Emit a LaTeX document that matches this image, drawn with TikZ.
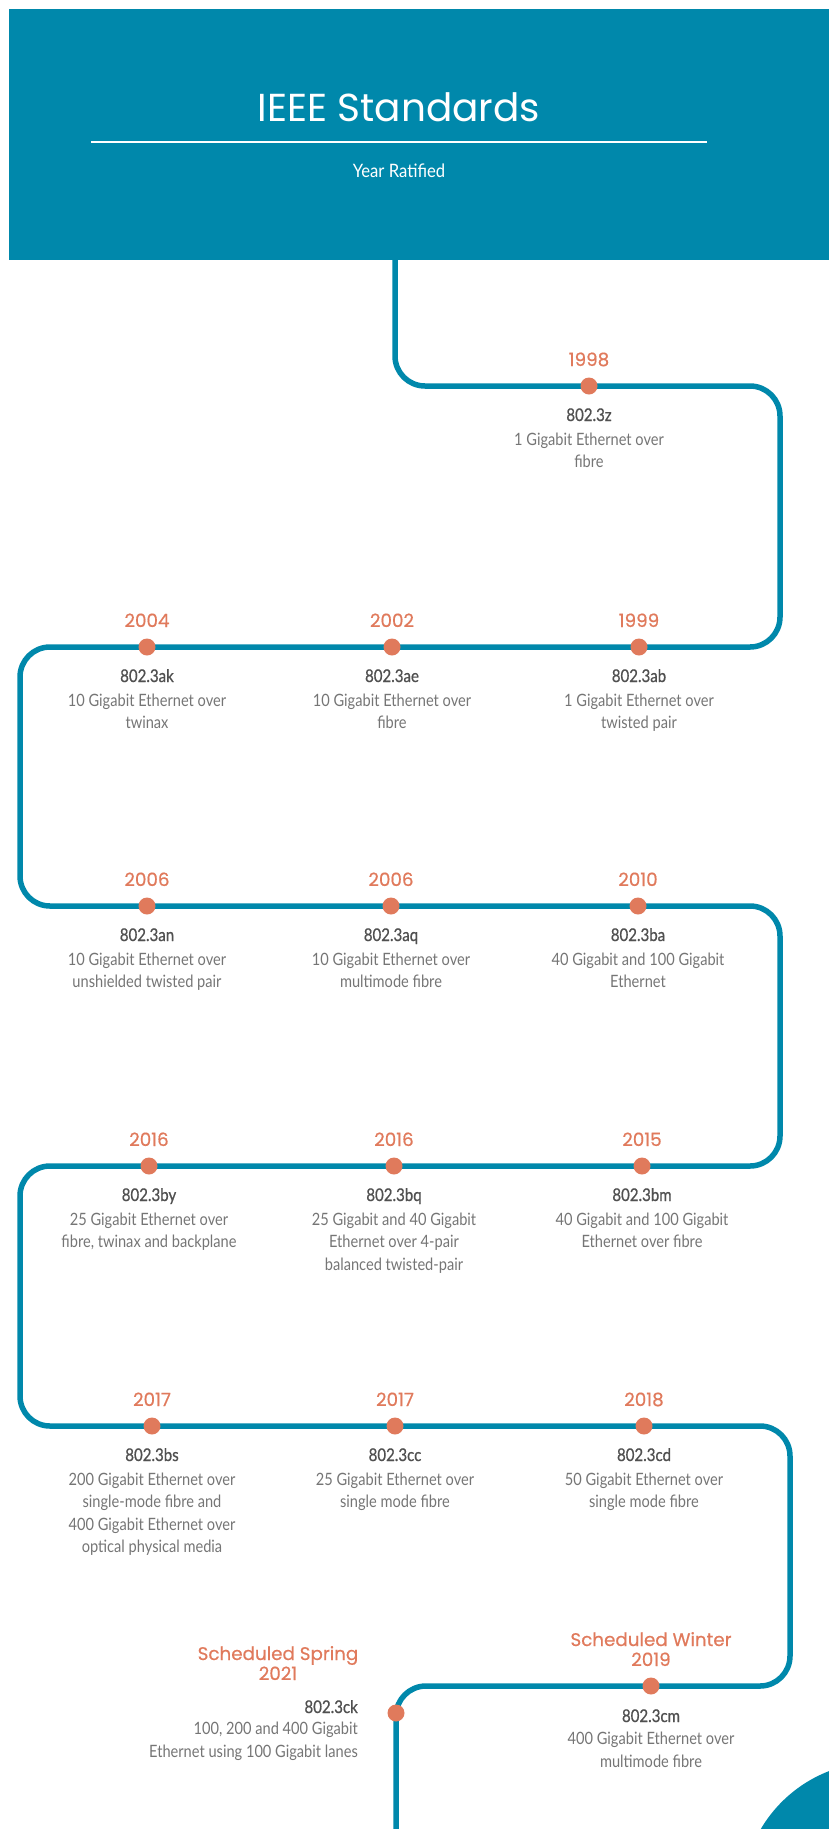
\documentclass[tikz,border=0pt]{standalone}
\usepackage{fontspec}
\newfontfamily\titlefont{Poppins}
\newfontfamily\yearfont[FakeBold=0.6]{Poppins}
\newfontfamily\bodyfont[FakeStretch=0.86]{Lato}
\newfontfamily\codefont[FakeStretch=0.86,FakeBold=0.8]{Lato}
\newfontfamily\subfont[FakeStretch=0.9]{Lato}
\definecolor{teal}{HTML}{0088AB}
\definecolor{dotc}{HTML}{E07A5C}
\definecolor{codec}{HTML}{505050}
\definecolor{descc}{HTML}{757575}
\tikzset{
  timeline/.style={draw=teal, line width=5.5pt, rounded corners=30pt},
  dotnode/.style={circle, fill=dotc, minimum size=17pt, inner sep=0pt},
  yearlbl/.style={font=\yearfont\fontsize{18.3}{20}\selectfont, text=dotc, anchor=base, inner sep=0pt, align=center},
  codelbl/.style={font=\codefont\fontsize{17.5}{20}\selectfont, text=codec, anchor=base, inner sep=0pt},
  desclbl/.style={font=\bodyfont\fontsize{17}{22.5}\selectfont, text=descc, anchor=north, inner sep=0pt, align=center},
}
\newcommand{\entry}[6]{% name, x, dot y, year, code, desc
  \node[dotnode] (#1) at (#2,#3) {};
  \node[yearlbl] (#1y) at (#2,#3-20) {#4};
  \node[codelbl] (#1c) at (#2,#3+35) {#5};
  \node[desclbl] (#1d) at (#2,#3+43.5) {\strut #6};
}
\begin{document}
\begin{tikzpicture}[x=1pt,y=-1pt]
\useasboundingbox (0,0) rectangle (829,1829);
% header
\fill[teal] (9,9) rectangle (829,260);
\node[font=\titlefont\fontsize{39}{44}\selectfont, text=white, anchor=base] (title) at (399,121) {IEEE Standards};
\coordinate (rl) at (91,142);
\coordinate (rr) at (707,142);
\draw[white, line width=1.8pt] (rl) -- (rr);
\node[font=\subfont\fontsize{18.5}{20}\selectfont, text=white, anchor=base] (sub) at (399,177) {Year Ratified};
% bottom-right decoration
\begin{scope}
\clip (0,0) rectangle (829,1829);
\fill[teal] (878,1898) circle (136);
\end{scope}
% timeline path
\coordinate (p0) at (395,260);
\coordinate (p1) at (395,386);
\coordinate (p2) at (780,386);
\coordinate (p3) at (780,647);
\coordinate (p4) at (20,647);
\coordinate (p5) at (20,906);
\coordinate (p6) at (780,906);
\coordinate (p7) at (780,1166);
\coordinate (p8) at (20,1166);
\coordinate (p9) at (20,1426);
\coordinate (p10) at (790,1426);
\coordinate (p11) at (790,1686);
\coordinate (p12) at (396,1686);
\coordinate (p13) at (396,1829);
\draw[timeline] (p0) -- (p1) -- (p2) -- (p3) -- (p4) -- (p5) -- (p6) -- (p7) -- (p8) -- (p9) -- (p10) -- (p11) -- (p12) -- (p13);
% entries
\entry{a}{589}{386}{1998}{802.3z}{1 Gigabit Ethernet over\\fibre}
\entry{b1}{147}{647}{2004}{802.3ak}{10 Gigabit Ethernet over\\twinax}
\entry{b2}{392}{647}{2002}{802.3ae}{10 Gigabit Ethernet over\\fibre}
\entry{b3}{639}{647}{1999}{802.3ab}{1 Gigabit Ethernet over\\twisted pair}
\entry{c1}{147}{906}{2006}{802.3an}{10 Gigabit Ethernet over\\unshielded twisted pair}
\entry{c2}{391}{906}{2006}{802.3aq}{10 Gigabit Ethernet over\\multimode fibre}
\entry{c3}{638}{906}{2010}{802.3ba}{40 Gigabit and 100 Gigabit\\Ethernet}
\entry{d1}{149}{1166}{2016}{802.3by}{25 Gigabit Ethernet over\\fibre, twinax and backplane}
\entry{d2}{394}{1166}{2016}{802.3bq}{25 Gigabit and 40 Gigabit\\Ethernet over 4-pair\\balanced twisted-pair}
\entry{d3}{642}{1166}{2015}{802.3bm}{40 Gigabit and 100 Gigabit\\Ethernet over fibre}
\entry{e1}{152}{1426}{2017}{802.3bs}{200 Gigabit Ethernet over\\single-mode fibre and\\400 Gigabit Ethernet over\\optical physical media}
\entry{e2}{395}{1426}{2017}{802.3cc}{25 Gigabit Ethernet over\\single mode fibre}
\entry{e3}{644}{1426}{2018}{802.3cd}{50 Gigabit Ethernet over\\single mode fibre}
% row 6
\node[dotnode] (f1) at (651,1686) {};
\node[yearlbl] (f1y) at (651,1666) {Scheduled Winter\\2019};
\node[codelbl] (f1c) at (651,1722) {802.3cm};
\node[desclbl] (f1d) at (651,1729) {\strut 400 Gigabit Ethernet over\\multimode fibre};
\node[dotnode] (f2) at (396,1713) {};
\node[yearlbl] (f2y) at (278,1680) {Scheduled Spring\\2021};
\node[codelbl, anchor=base east] (f2c) at (358,1713) {802.3ck};
\node[desclbl, anchor=north east, align=right] (f2d) at (358,1719) {\strut 100, 200 and 400 Gigabit\\Ethernet using 100 Gigabit lanes};
\end{tikzpicture}
\end{document}
